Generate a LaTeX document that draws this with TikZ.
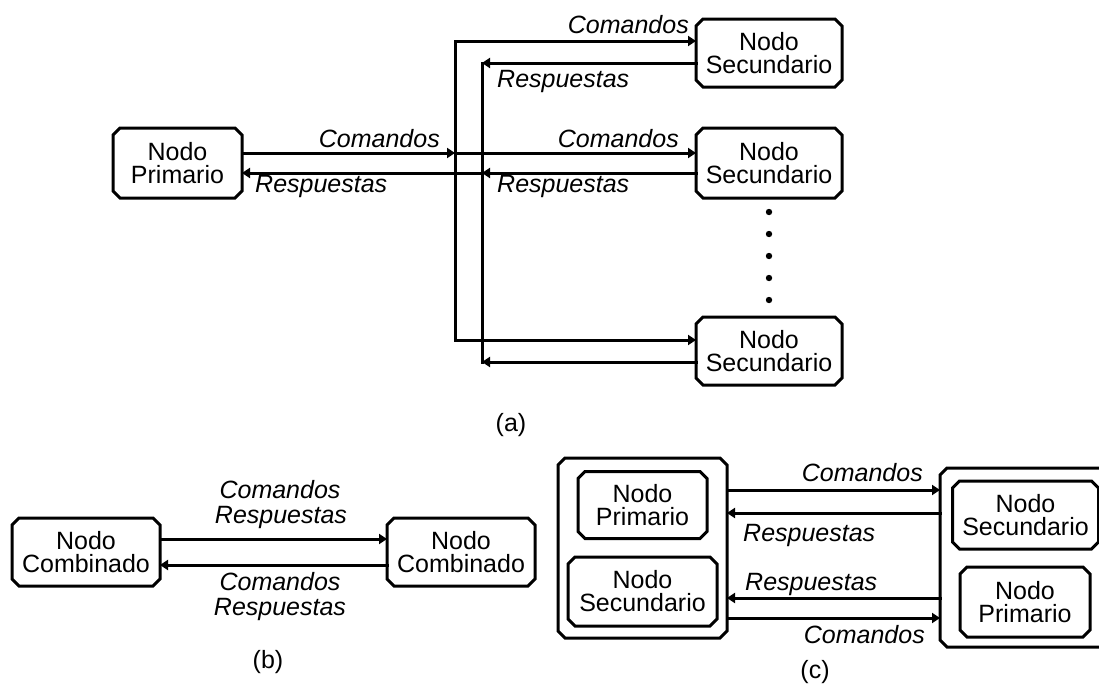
\documentclass[tikz,border=0pt]{standalone}
\usepackage{fontspec}
\setmainfont{Liberation Sans}
\usetikzlibrary{arrows.meta}
% outline of a box with cut corners around a named node
\newcommand\cutbox[2]{%
  \draw[wire, line cap=butt, line join=miter]
    ([xshift=#2]#1.north west) -- ([xshift=-#2]#1.north east)
    -- ([yshift=-#2]#1.north east) -- ([yshift=#2]#1.south east)
    -- ([xshift=-#2]#1.south east) -- ([xshift=#2]#1.south west)
    -- ([yshift=#2]#1.south west) -- ([yshift=-#2]#1.north west) -- cycle;}
\begin{document}
\begin{tikzpicture}[x=1pt,y=-1pt,
  txt/.style={font=\fontsize{25}{23}\selectfont, inner sep=0pt},
  lbl/.style={font=\fontsize{25}{23}\selectfont\itshape, inner sep=0pt},
  box/.style={rectangle, inner sep=0pt, outer sep=0pt, align=center,
    font=\fontsize{25}{23}\selectfont},
  wire/.style={line width=3pt, line cap=rect},
  arr/.style={wire, -{Triangle[length=8pt,width=10pt]}}]
\useasboundingbox (0,0) rectangle (1099,686);
\clip (0,0) rectangle (1099,686);

% ---------------- (a) one primary, several secondaries
\node[box, minimum width=129, minimum height=70] (prim) at (177.5,163) {Nodo\\Primario};
\node[box, minimum width=146, minimum height=68] (sec1) at (769,53) {Nodo\\Secundario};
\node[box, minimum width=146, minimum height=70] (sec2) at (769,163) {Nodo\\Secundario};
\node[box, minimum width=146, minimum height=68] (sec3) at (769,351) {Nodo\\Secundario};

% command bus (rail 1) and response bus (rail 2)
\coordinate (r1top) at (455,41);
\coordinate (r1bot) at (455,340);
\coordinate (r2top) at (482,63);
\coordinate (r2bot) at (482,362);
\coordinate (j1) at (455,153);
\coordinate (j2) at (482,173);

\draw[arr] (prim.east |- j1) -- (j1);
\draw[arr] (j1) -- (sec2.west |- j1);
\draw[arr] (r1bot) -- (r1top) -- (sec1.west |- r1top);
\draw[arr] (r1bot) -- (sec3.west |- r1bot);

\draw[wire] (r2top) -- (r2bot);
\draw[arr] (sec1.west |- r2top) -- (r2top);
\draw[arr] (sec2.west |- j2) -- (j2);
\draw[arr] (j2) -- (prim.east |- j2);
\draw[arr] (sec3.west |- r2bot) -- (r2bot);

\node[lbl, anchor=base east] (la1) at (689,33) {Comandos};
\node[lbl, anchor=base west] (la2) at (497,87) {Respuestas};
\node[lbl, anchor=base east] (la3) at (440,147) {Comandos};
\node[lbl, anchor=base west] (la4) at (255,192) {Respuestas};
\node[lbl, anchor=base east] (la5) at (679,147) {Comandos};
\node[lbl, anchor=base west] (la6) at (497,192) {Respuestas};

\foreach \yy in {212,234,256,278,300}
  \fill (769,\yy) circle[radius=3.2];

\node[txt] (capa) at (511,425) {(a)};

% ---------------- (b) two combined nodes
\node[box, minimum width=148, minimum height=68] (cb1) at (86,552) {Nodo\\Combinado};
\node[box, minimum width=148, minimum height=68] (cb2) at (461,552) {Nodo\\Combinado};
\draw[arr] ([yshift=13pt]cb1.east) -- ([yshift=13pt]cb2.west);
\draw[arr] ([yshift=-13pt]cb2.west) -- ([yshift=-13pt]cb1.east);

\node[lbl, anchor=base] (lb1) at (280,498) {Comandos};
\node[lbl, anchor=base] (lb2) at (281,523) {Respuestas};
\node[lbl, anchor=base] (lb3) at (280,590) {Comandos};
\node[lbl, anchor=base] (lb4) at (280,615) {Respuestas};

\node[txt] (capb) at (268,662) {(b)};

% ---------------- (c) two devices, each holding a primary and a secondary
\node[box, minimum width=169, minimum height=180] (co1) at (642.5,548) {};
\node[box, minimum width=129, minimum height=67] (cp1) at (642.5,505) {Nodo\\Primario};
\node[box, minimum width=149, minimum height=69] (cs1) at (642.5,591.5) {Nodo\\Secundario};

\node[box, minimum width=169, minimum height=179] (co2) at (1024.5,557.5) {};
\node[box, minimum width=146, minimum height=68] (cs2) at (1025.5,515) {Nodo\\Secundario};
\node[box, minimum width=130, minimum height=70] (cp2) at (1025,602) {Nodo\\Primario};

\coordinate (c1) at (0,490);
\coordinate (c2) at (0,513);
\coordinate (c3) at (0,598);
\coordinate (c4) at (0,618);
\draw[arr] (co1.east |- c1) -- (co2.west |- c1);
\draw[arr] (co2.west |- c2) -- (co1.east |- c2);
\draw[arr] (co2.west |- c3) -- (co1.east |- c3);
\draw[arr] (co1.east |- c4) -- (co2.west |- c4);

\node[lbl, anchor=base east] (lc1) at (923,481) {Comandos};
\node[lbl, anchor=base west] (lc2) at (743,541) {Respuestas};
\node[lbl, anchor=base west] (lc3) at (745,590) {Respuestas};
\node[lbl, anchor=base east] (lc4) at (925,643) {Comandos};

\node[txt] (capc) at (815,672) {(c)};

% box outlines with cut corners
\foreach \n in {prim,sec1,sec2,sec3,cb1,cb2,co1,cp1,cs1,co2,cs2,cp2}{
  \cutbox{\n}{7pt}
}
\end{tikzpicture}
\end{document}
